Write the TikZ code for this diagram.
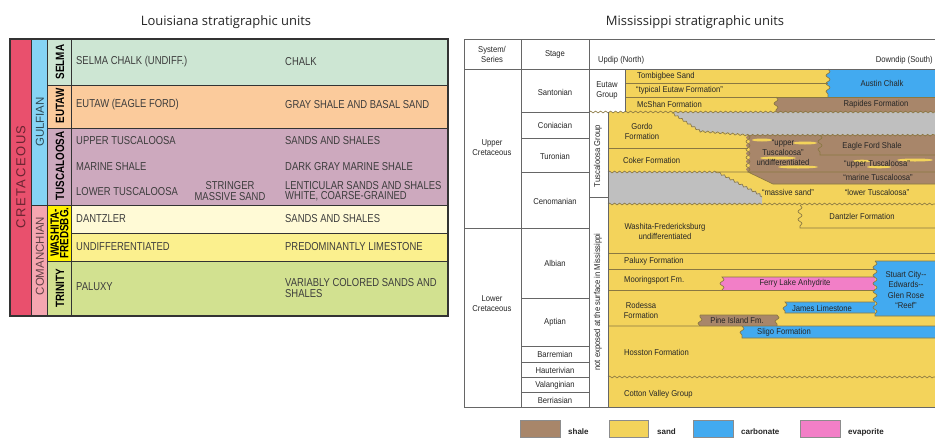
\documentclass[tikz,border=0pt]{standalone}
\usepackage{fontspec}
\setmainfont{Liberation Sans}
\newfontfamily\headfont{Open Sans}
\newfontfamily\narrowfont[FakeStretch=0.82]{Liberation Sans}
\newfontfamily\chartfont[FakeStretch=0.9]{Liberation Sans}
\newfontfamily\spreadfont[LetterSpace=12]{Liberation Sans}
\usetikzlibrary{decorations.pathmorphing}
\definecolor{cretred}{HTML}{E9506D}
\definecolor{gulfblue}{HTML}{86D4F5}
\definecolor{comanpink}{HTML}{F5A6B0}
\definecolor{selmagreen}{HTML}{CDE6D3}
\definecolor{eutaworange}{HTML}{FBCB9C}
\definecolor{tuscmauve}{HTML}{CDA9BE}
\definecolor{dantcream}{HTML}{FFFAD6}
\definecolor{undiffyellow}{HTML}{FBF08E}
\definecolor{washyellow}{HTML}{FFF200}
\definecolor{trinitygreen}{HTML}{D2E190}
\definecolor{sandfill}{HTML}{F3D35B}
\definecolor{shalefill}{HTML}{A8866A}
\definecolor{carbfill}{HTML}{42AAF0}
\definecolor{evapfill}{HTML}{F27FC7}
\definecolor{gapgray}{HTML}{BFBFBF}
\definecolor{sandline}{HTML}{8A7842}
\definecolor{gridline}{HTML}{666666}
\definecolor{textgray}{HTML}{3C3C3C}

\begin{document}
\begin{tikzpicture}[
  x=1pt, y=-1pt,
  titletext/.style={font=\headfont\fontsize{13}{14}\selectfont, text=black!85, inner sep=0pt},
  tblline/.style={draw=black!80, line width=1pt},
  leftlbl/.style={font=\narrowfont\fontsize{11.5}{10.5}\selectfont, text=textgray, anchor=west, inner sep=0pt},
  leftmid/.style={leftlbl, anchor=center, align=center},
  rotlbl/.style={rotate=90, font=\narrowfont\bfseries\fontsize{12}{9.5}\selectfont, align=center, inner sep=0pt},
  agelbl/.style={rotate=90, inner sep=0pt},
  chartlbl/.style={font=\chartfont\fontsize{8.5}{10}\selectfont, text=black!85, inner sep=0pt, align=center},
  chartwest/.style={chartlbl, anchor=west, align=left},
  bound/.style={draw=sandline, line width=0.65pt},
  grid/.style={draw=gridline, line width=0.6pt},
  wig/.style={decoration={snake, segment length=5pt, amplitude=0.9pt}},
  jag/.style={decoration={snake, segment length=8pt, amplitude=2pt}},
  keybox/.style={draw=black!45, line width=0.6pt},
  keylbl/.style={font=\bfseries\fontsize{8}{9}\selectfont, text=black!85, anchor=west, inner sep=0pt}
]
\useasboundingbox (0,0) rectangle (935,437);
\fill[white] (0,0) rectangle (935,437);

\node[titletext] (laTitle) at (226,22) {Louisiana stratigraphic units};
\node[titletext] (msTitle) at (695,22) {Mississippi stratigraphic units};

\fill[cretred] (10,39) rectangle (31,316);
\fill[gulfblue] (31,39) rectangle (47,205);
\fill[comanpink] (31,205) rectangle (47,316);
\fill[selmagreen] (47,39) rectangle (448,85);
\fill[eutaworange] (47,85) rectangle (448,128);
\fill[tuscmauve] (47,128) rectangle (448,205);
\fill[dantcream] (71,205) rectangle (448,233);
\fill[undiffyellow] (71,233) rectangle (448,261);
\fill[washyellow] (47,205) rectangle (71,261);
\fill[trinitygreen] (47,261) rectangle (448,316);
\draw[tblline] (47,85) -- (448,85) (47,128) -- (448,128) (31,205) -- (448,205)
  (71,233) -- (448,233) (47,261) -- (448,261)
  (31,39) -- (31,316) (47,39) -- (47,316) (71,39) -- (71,316);
\draw[tblline, line width=1.4pt] (10,39) rectangle (448,316);

\node[agelbl, font=\spreadfont\fontsize{13}{14}\selectfont, text=cretred!45!black] (cretLbl) at (21,177) {CRETACEOUS};
\node[agelbl, font=\fontsize{11.5}{12}\selectfont, text=gulfblue!35!black] (gulfLbl) at (40,122) {GULFIAN};
\node[agelbl, font=\fontsize{11.5}{12}\selectfont, text=comanpink!40!black] (comanLbl) at (40,256) {COMANCHIAN};
\node[rotlbl] (selmaGrp) at (60,62) {SELMA};
\node[rotlbl] (eutawGrp) at (60,106) {EUTAW};
\node[rotlbl] (tuscGrp) at (60,166) {TUSCALOOSA};
\node[rotlbl] (washGrp) at (59.5,233) {WASHITA-\\FREDSBG.};
\node[rotlbl] (trinityGrp) at (60,288) {TRINITY};

\node[leftlbl] (selmaUnit) at (76,62) {SELMA CHALK (UNDIFF.)};
\node[leftlbl] (selmaLith) at (285,62) {CHALK};
\node[leftlbl] (eutawUnit) at (76,105) {EUTAW (EAGLE FORD)};
\node[leftlbl] (eutawLith) at (285,105) {GRAY SHALE AND BASAL SAND};
\node[leftlbl] (upTuscUnit) at (76,141) {UPPER TUSCALOOSA};
\node[leftlbl] (upTuscLith) at (285,141) {SANDS AND SHALES};
\node[leftlbl] (marineUnit) at (76,167) {MARINE SHALE};
\node[leftlbl] (marineLith) at (285,167) {DARK GRAY MARINE SHALE};
\node[leftlbl] (lowTuscUnit) at (76,192) {LOWER TUSCALOOSA};
\node[leftmid] (stringerLbl) at (230,191) {STRINGER\\MASSIVE SAND};
\node[leftlbl, align=left] (lowTuscLith) at (285,191) {LENTICULAR SANDS AND SHALES\\WHITE, COARSE-GRAINED};
\node[leftlbl] (dantUnit) at (76,219) {DANTZLER};
\node[leftlbl] (dantLith) at (285,219) {SANDS AND SHALES};
\node[leftlbl] (undiffUnit) at (76,247) {UNDIFFERENTIATED};
\node[leftlbl] (undiffLith) at (285,247) {PREDOMINANTLY LIMESTONE};
\node[leftlbl] (paluxyUnit) at (76,287) {PALUXY};
\node[leftlbl, align=left] (paluxyLith) at (285,288) {VARIABLY COLORED SANDS AND\\SHALES};

\fill[sandfill] (625,69) rectangle (935,112);
\fill[sandfill] (608,112) rectangle (935,407);
\fill[carbfill] (935,69) -- (828,69) decorate[jag]{-- (828,97)} -- (935,97) -- cycle;
\fill[shalefill] (935,97) -- (776,97) decorate[jag]{-- (776,112)} -- (935,112) -- cycle;
\fill[gapgray] (672,112) -- (935,112) -- (935,135) -- (748,135) decorate[wig]{-- (700,131) -- (672,112)};
\fill[shalefill] (748,135) -- (935,135) -- (935,184) -- (773,184) -- (748,172) decorate[jag]{-- (748,135)};
\fill[sandfill] (762,140) ellipse (10 and 1.5) (805,143) ellipse (12 and 1.5)
  (778,158) ellipse (18 and 1.5) (798,167) ellipse (20 and 1.5)
  (862,161) ellipse (9 and 1.3) (915,160) ellipse (18 and 1.5) (879,167) ellipse (12 and 1.3);
\fill[gapgray] (608,172) decorate[wig]{-- (715,172) -- (762,196)} -- (762,204) -- (608,204) -- cycle;
\fill[evapfill] (875,277) -- (722,277) decorate[jag]{-- (722,290)} -- (875,290) -- cycle;
\fill[carbfill] (935,261) -- (875,261) decorate[jag]{-- (875,316)} -- (935,316) -- cycle;
\fill[carbfill] (875,302) -- (785,302) decorate[jag]{-- (785,313)} -- (875,313) -- cycle;
\fill[shalefill] (700,315) -- (777,315) decorate[jag]{-- (777,326)} -- (700,326) decorate[jag]{-- (700,315)};
\fill[carbfill] (935,326) -- (742,326) decorate[jag]{-- (742,338)} -- (935,338) -- cycle;

\draw[bound] (625,83) -- (828,83) (625,97) -- (935,97);
\draw[bound] (828,69) decorate[jag]{-- (828,97)};
\draw[bound] (776,97) decorate[jag]{-- (776,112)};
\draw[bound, decorate, wig] (589,112) -- (935,112);
\draw[bound, decorate, wig] (672,113) -- (700,131) -- (748,135) -- (935,135);
\draw[bound] (608,148) -- (748,148);
\draw[bound] (748,135) decorate[jag]{-- (748,172)};
\draw[bound] (820,135) decorate[jag]{-- (820,155)} -- (935,155);
\draw[bound] (715,172) -- (935,172) (748,172) -- (773,184) -- (935,184);
\draw[bound, decorate, wig] (608,172) -- (715,172) -- (762,197);
\draw[bound, decorate, wig] (608,204) -- (935,204);
\draw[bound] (800,205) decorate[jag]{-- (800,228)} -- (935,228);
\draw[bound] (608,253) -- (935,253) (608,269) -- (875,269) (608,290) -- (875,290);
\draw[bound] (875,277) -- (722,277) decorate[jag]{-- (722,290)};
\draw[bound] (875,261) -- (935,261) (875,261) decorate[jag]{-- (875,316)} -- (935,316);
\draw[bound] (875,302) -- (785,302) decorate[jag]{-- (785,313)} -- (875,313);
\draw[bound] (700,315) -- (777,315) decorate[jag]{-- (777,326)} (700,326) decorate[jag]{-- (700,315)};
\draw[bound] (608,326) -- (935,326) (742,326) decorate[jag]{-- (742,338)} -- (935,338);
\draw[bound, decorate, wig] (608,377) -- (935,377);

\draw[grid] (464,39) -- (935,39) (464,69) -- (935,69) (464,407) -- (935,407)
  (464,39) -- (464,407) (521,39) -- (521,407) (589,39) -- (589,407)
  (625,69) -- (625,112) (608,112) -- (608,407) (589,197) -- (608,197) (464,228) -- (521,228);
\foreach \yy in {112,138,172,228,298,346,362,377,392}
  \draw[grid] (521,\yy) -- (589,\yy);

\node[chartlbl] (seriesHead) at (492,54) {System/\\Series};
\node[chartlbl] (stageHead) at (555,54) {Stage};
\node[chartwest] (updipHead) at (598,60) {Updip (North)};
\node[chartlbl, anchor=east] (downdipHead) at (933,60) {Downdip (South)};
\node[chartlbl] (upperCret) at (492,148) {Upper\\Cretaceous};
\node[chartlbl] (lowerCret) at (492,304) {Lower\\Cretaceous};
\node[chartlbl] (santonian) at (555,92) {Santonian};
\node[chartlbl] (coniacian) at (555,125) {Coniacian};
\node[chartlbl] (turonian) at (555,156) {Turonian};
\node[chartlbl] (cenomanian) at (555,201) {Cenomanian};
\node[chartlbl] (albian) at (555,263) {Albian};
\node[chartlbl] (aptian) at (555,322) {Aptian};
\node[chartlbl] (barremian) at (555,354) {Barremian};
\node[chartlbl] (hauterivian) at (555,370) {Hauterivian};
\node[chartlbl] (valanginian) at (555,385) {Valanginian};
\node[chartlbl] (berriasian) at (555,400) {Berriasian};
\node[chartlbl] (eutawGroup) at (607,90) {Eutaw\\Group};
\node[chartlbl, rotate=90] (tuscGroup) at (598,156) {Tuscaloosa Group};
\node[chartlbl, rotate=90] (notExposed) at (598,302) {not exposed at the surface in Mississippi};

\node[chartwest] (tombigbee) at (637,76) {Tombigbee Sand};
\node[chartwest] (typEutaw) at (636,90) {“typical Eutaw Formation”};
\node[chartwest] (mcshan) at (637,104) {McShan Formation};
\node[chartlbl] (austin) at (882,83) {Austin Chalk};
\node[chartlbl] (rapides) at (876,104) {Rapides Formation};
\node[chartlbl] (gordo) at (642,131) {Gordo\\Formation};
\node[chartwest] (coker) at (623,160) {Coker Formation};
\node[chartlbl] (upTuscUndiff) at (783,153) {“upper\\Tuscaloosa”\\undifferentiated};
\node[chartlbl] (eagleFord) at (872,146) {Eagle Ford Shale};
\node[chartlbl] (upTusc) at (877,164) {“upper Tuscaloosa”};
\node[chartlbl] (marineTusc) at (878,177.5) {“marine Tuscaloosa”};
\node[chartlbl] (massiveSand) at (788,192) {“massive sand”};
\node[chartlbl] (lowTusc) at (877,192) {“lower Tuscaloosa”};
\node[chartlbl] (washFred) at (665,231) {Washita-Fredericksburg\\undifferentiated};
\node[chartlbl] (dantzler) at (862,216) {Dantzler Formation};
\node[chartwest] (paluxy) at (624,261) {Paluxy Formation};
\node[chartwest] (mooringsport) at (624,280) {Mooringsport Fm.};
\node[chartlbl] (ferryLake) at (795,283.5) {Ferry Lake Anhydrite};
\node[chartlbl, font=\chartfont\fontsize{8.5}{10.5}\selectfont] (stuartReef) at (906,290) {Stuart City--\\Edwards--\\Glen Rose\\“Reef”};
\node[chartlbl] (rodessa) at (641,310) {Rodessa\\Formation};
\node[chartlbl] (jamesLs) at (822,308) {James Limestone};
\node[chartlbl] (pineIsland) at (737,320.5) {Pine Island Fm.};
\node[chartwest] (sligo) at (757,332) {Sligo Formation};
\node[chartwest] (hosston) at (624,352) {Hosston Formation};
\node[chartwest] (cottonValley) at (624,394) {Cotton Valley Group};

\filldraw[keybox, fill=shalefill] (520,420) rectangle (560,437);
\filldraw[keybox, fill=sandfill] (609,420) rectangle (648,437);
\filldraw[keybox, fill=carbfill] (693,420) rectangle (733,437);
\filldraw[keybox, fill=evapfill] (800,420) rectangle (840,437);
\node[keylbl] (shaleKey) at (568,432) {shale};
\node[keylbl] (sandKey) at (657,432) {sand};
\node[keylbl] (carbKey) at (741,432) {carbonate};
\node[keylbl] (evapKey) at (848,432) {evaporite};
\end{tikzpicture}
\end{document}
